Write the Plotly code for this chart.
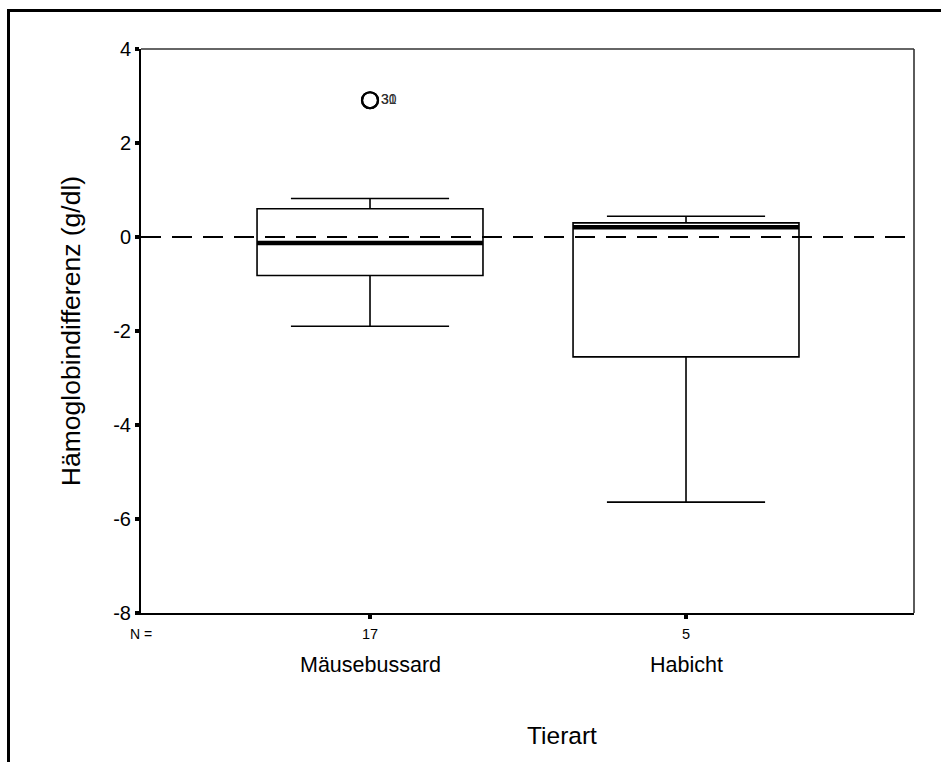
import plotly.graph_objects as go

# Summary statistics per species (g/dl)
categories = ["Mäusebussard", "Habicht"]
group_n = [17, 5]
q1 = [-0.82, -2.55]
median = [-0.13, 0.21]
q3 = [0.60, 0.30]
lower_whisker = [-1.90, -5.64]
upper_whisker = [0.82, 0.44]

# Outliers (group index, value, case number)
outlier_group = [0, 0]
outlier_value = [2.91, 2.91]
outlier_case = ["30", "31"]

y_ticks = [4, 2, 0, -2, -4, -6, -8]

FONT = "Liberation Sans, Arial, sans-serif"
xpos = [i + 1 for i in range(len(categories))]

fig = go.Figure()

fig.add_trace(go.Box(
    x=xpos,
    q1=q1, median=median, q3=q3,
    lowerfence=lower_whisker, upperfence=upper_whisker,
    width=0.715,
    whiskerwidth=0.70,
    fillcolor="white",
    line=dict(color="black", width=1.6),
    boxpoints=False,
    hoverinfo="skip",
    showlegend=False,
))

# Thick median bars
for x, m in zip(xpos, median):
    fig.add_shape(type="line", xref="x", yref="y",
                  x0=x - 0.3575, x1=x + 0.3575, y0=m, y1=m,
                  line=dict(color="black", width=4.5), layer="above")

# Outliers
fig.add_trace(go.Scatter(
    x=[xpos[g] for g in outlier_group],
    y=outlier_value,
    mode="markers+text",
    marker=dict(symbol="circle-open", size=16, color="black", line=dict(width=2.2)),
    text=outlier_case,
    textposition="middle right",
    textfont=dict(family=FONT, size=14, color="#333"),
    hoverinfo="skip",
    showlegend=False,
))

# Zero reference line
fig.add_shape(type="line", xref="paper", yref="y", x0=0, x1=1, y0=0, y1=0,
              line=dict(color="black", width=2, dash="20px,11px"), layer="above")

# Plot frame (top and right thinner)
fig.add_shape(type="line", xref="paper", yref="paper", x0=0, x1=1, y0=1, y1=1,
              line=dict(color="#333", width=1.6))
fig.add_shape(type="line", xref="paper", yref="paper", x0=1, x1=1, y0=0, y1=1,
              line=dict(color="#333", width=1.6))

# Page frame: left and top edges
L, R, T, B = 141, 27, 49, 149
W, H = 941, 762
pw, ph = W - L - R, H - T - B


def px(xp):
    return (xp - L) / pw


def py(yp):
    return (H - B - yp) / ph


fig.add_shape(type="line", xref="paper", yref="paper",
              x0=px(8.5), x1=px(8.5), y0=py(10.5), y1=py(780),
              line=dict(color="black", width=3))
fig.add_shape(type="line", xref="paper", yref="paper",
              x0=px(7), x1=px(960), y0=py(10.5), y1=py(10.5),
              line=dict(color="black", width=3))

# Category labels and group sizes
fig.add_annotation(x=0, xref="paper", y=py(634), yref="paper", text="N =",
                   xanchor="center", yanchor="middle",
                   showarrow=False, font=dict(family=FONT, size=14, color="black"))
for x, name, n in zip(xpos, categories, group_n):
    fig.add_annotation(x=x, xref="x", y=py(634), yref="paper", text=str(n),
                       xanchor="center", yanchor="middle",
                       showarrow=False, font=dict(family=FONT, size=14.5, color="black"))
    fig.add_annotation(x=x, xref="x", y=py(665), yref="paper", text=name,
                       xanchor="center", yanchor="middle",
                       showarrow=False, font=dict(family=FONT, size=21.5, color="black"))
fig.add_annotation(x=px(562), xref="paper", y=py(735), yref="paper", text="Tierart",
                   xanchor="center", yanchor="middle",
                   showarrow=False, font=dict(family=FONT, size=24.5, color="black"))

fig.update_layout(
    width=W, height=H,
    margin=dict(l=L, r=R, t=T, b=B),
    paper_bgcolor="white", plot_bgcolor="white",
    font=dict(family=FONT, color="black"),
    xaxis=dict(
        range=[0.2753, 2.7215],
        tickvals=xpos, showticklabels=False,
        ticks="outside", ticklen=4, tickwidth=4, tickcolor="black",
        showline=True, linecolor="black", linewidth=2,
        showgrid=False, zeroline=False, fixedrange=True,
    ),
    yaxis=dict(
        range=[-8, 4],
        tickvals=y_ticks, ticktext=[str(v) for v in y_ticks],
        ticks="outside", ticklen=4, tickwidth=4, tickcolor="black",
        tickfont=dict(family=FONT, size=20, color="black"),
        showline=True, linecolor="black", linewidth=2,
        showgrid=False, zeroline=False,
        title=dict(text="Hämoglobindifferenz (g/dl)",
                   font=dict(family=FONT, size=26.5, color="black"), standoff=25),
    ),
)

fig.write_html("out.html")
